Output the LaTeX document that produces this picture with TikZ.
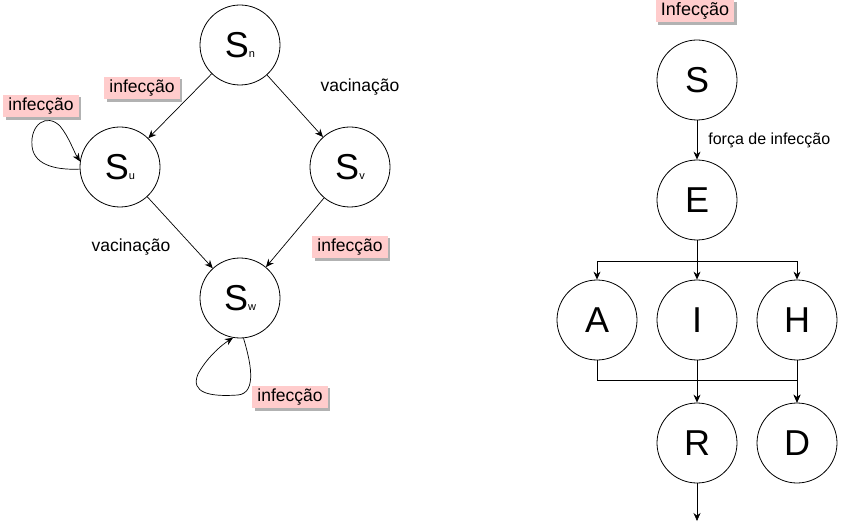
\documentclass[tikz,border=0pt]{standalone}
\usepackage{fontspec}
\setmainfont{Liberation Sans}
\usetikzlibrary{arrows.meta,shadows}
\definecolor{pinkbg}{RGB}{255,204,204}
\newcommand{\subsmall}[1]{{\fontsize{11}{11}\selectfont #1}}
\begin{document}
\begin{tikzpicture}[x=1pt,y=-1pt,
 st/.style={circle,draw,line width=0.8pt,fill=white,minimum size=80pt,inner sep=0pt,font=\fontsize{36}{36}\selectfont},
 lab/.style={fill=pinkbg,inner xsep=5pt,inner ysep=3pt,font=\fontsize{17.5}{17.5}\selectfont,
   drop shadow={shadow xshift=2.5pt,shadow yshift=-2.5pt,fill=black!30,opacity=1}},
 txt/.style={font=\fontsize{17.5}{17.5}\selectfont,inner sep=0pt},
 arr/.style={-{Stealth[length=8pt,width=7pt]},line width=0.7pt},
 ]
\useasboundingbox (0,0) rectangle (848,529);
% left diagram
\node[st] (Sn) at (240,45) {S\subsmall{n}};
\node[st] (Su) at (120,167) {S\subsmall{u}};
\node[st] (Sv) at (350,167) {S\subsmall{v}};
\node[st] (Sw) at (240,298) {S\subsmall{w}};
\draw[arr] (Sn) -- (Su);
\draw[arr] (Sn) -- (Sv);
\draw[arr] (Su) -- (Sw);
\draw[arr] (Sv) -- (Sw);
\draw[arr] (Su.183) .. controls (60,170) and (34,167) .. (32,146)
   .. controls (30,124) and (47,113) .. (60,126)
   .. controls (69,137) and (74,152) .. (Su.172);
\draw[arr] (Sw.-85) .. controls (250,360) and (258,393) .. (238,395)
   .. controls (210,397) and (190,393) .. (198,374)
   .. controls (206,359) and (220,346) .. (Sw.-100);
\node[lab] (l1) at (142,88) {infecção};
\node[lab] (l2) at (41,106) {infecção};
\node[lab] (l3) at (350,247) {infecção};
\node[lab] (l4) at (290,397) {infecção};
\node[txt] (v1) at (360,87) {vacinação};
\node[txt] (v2) at (131,247) {vacinação};
% right diagram
\node[lab,font=\fontsize{18}{18}\selectfont] (l5) at (695,11) {Infecção};
\node[st] (S) at (697,80) {S};
\node[st] (E) at (697,200) {E};
\node[st] (A) at (597,320) {A};
\node[st] (I) at (697,320) {I};
\node[st] (H) at (797,320) {H};
\node[st] (R) at (697,443) {R};
\node[st] (D) at (797,443) {D};
\coordinate (split) at (697,261);
\coordinate (merge) at (797,380);
\coordinate (out) at (697,521);
\draw[arr] (S) -- (E) node[midway,right=11pt,font=\fontsize{16}{16}\selectfont,inner sep=0pt] {força de infecção};
\draw[arr] (E) -- (I);
\draw[arr] (split) -| (A.north);
\draw[arr] (split) -| (H.north);
\draw[arr] (A.south) |- (merge) -- (D.north);
\draw[arr] (H) -- (D);
\draw[arr] (I) -- (R);
\draw[arr] (R) -- (out);
\end{tikzpicture}
\end{document}
